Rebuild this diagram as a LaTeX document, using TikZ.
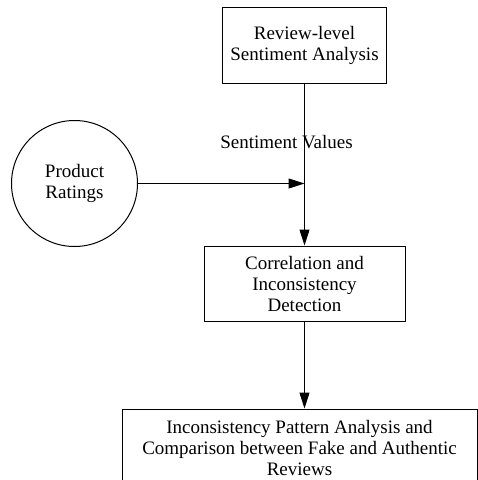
\documentclass[tikz,border=0pt]{standalone}
\usepackage{fontspec}
\setmainfont{Liberation Serif}
\usetikzlibrary{arrows.meta}
\begin{document}
\begin{tikzpicture}[x=1pt,y=-1pt,
  every node/.style={font=\fontsize{19}{21}\selectfont, align=center, inner sep=0pt},
  boxnode/.style={draw, line width=1pt, rectangle},
  circnode/.style={draw, line width=1pt, circle},
  conn/.style={line width=1pt, -{Triangle[length=16pt,width=10pt]}}]
\useasboundingbox (0,0) rectangle (478,480);
\clip (0,0) rectangle (478,480);
\node[boxnode, minimum width=164pt, minimum height=76pt] (rsa) at (304.5,45) {Review-level\\Sentiment Analysis};
\node[circnode, minimum size=126pt] (pr) at (74.5,183.5) {Product\\Ratings};
\node[boxnode, minimum width=201pt, minimum height=75pt] (cid) at (304.5,283.5) {Correlation and\\Inconsistency\\Detection};
\node[boxnode, minimum width=355pt, minimum height=78pt] (ipa) at (299.5,448) {Inconsistency Pattern Analysis and\\Comparison between Fake and Authentic\\Reviews};
\coordinate (j) at (rsa.south |- pr.east);
\draw[conn] (rsa.south) -- (cid.north) node[pos=0.36, xshift=-18pt] (sv) {Sentiment Values};
\draw[conn] (pr.east) -- (j);
\draw[conn] (cid.south) -- (cid.south |- ipa.north);
\end{tikzpicture}
\end{document}
